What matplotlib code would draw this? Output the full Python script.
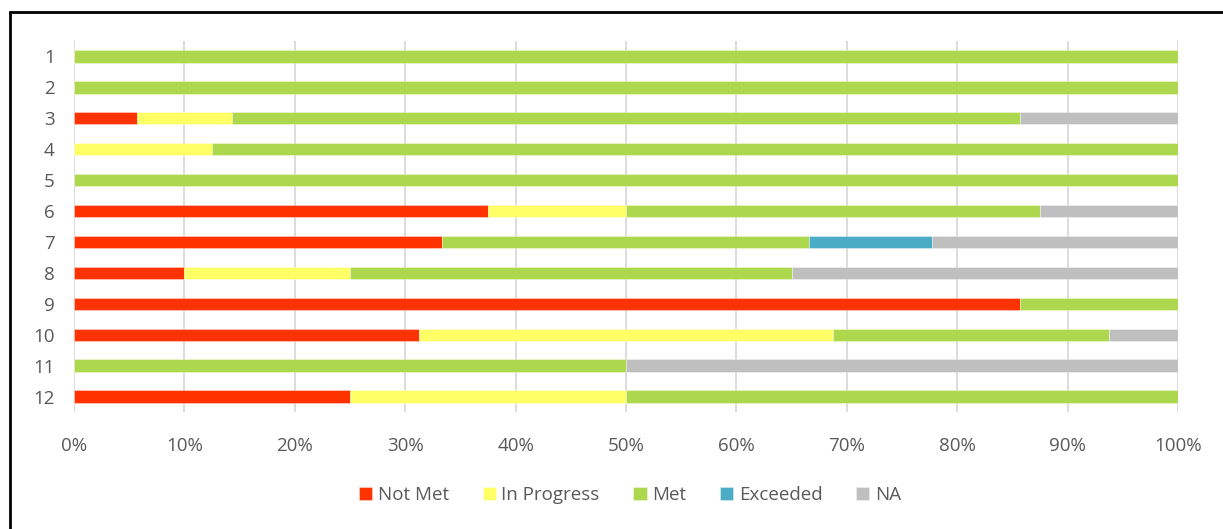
import matplotlib
matplotlib.use("Agg")
import matplotlib.pyplot as plt
from matplotlib.patches import Rectangle
import numpy as np

categories = ["1", "2", "3", "4", "5", "6", "7", "8", "9", "10", "11", "12"]
series_names = ["Not Met", "In Progress", "Met", "Exceeded", "NA"]
not_met     = [0, 0, 5.7, 0, 0, 37.5, 33.3, 10, 85.7, 31.25, 0, 25]
in_progress = [0, 0, 8.6, 12.5, 0, 12.5, 0, 15, 0, 37.5, 0, 25]
met         = [100, 100, 71.4, 87.5, 100, 37.5, 33.3, 40, 14.3, 25, 50, 50]
exceeded    = [0, 0, 0, 0, 0, 0, 11.1, 0, 0, 0, 0, 0]
na          = [0, 0, 14.3, 0, 0, 12.5, 22.3, 35, 0, 6.25, 50, 0]
colors = ["#FF3300", "#FFFF66", "#ADD74C", "#4BACC6", "#BFBFBF"]
xticks = [0, 10, 20, 30, 40, 50, 60, 70, 80, 90, 100]

plt.rcParams['font.family'] = ['Open Sans', 'DejaVu Sans']
fig = plt.figure(figsize=(12.23, 5.29), dpi=100)
ax = fig.add_axes([74/1223, 1-412/529, (1178-74)/1223, (412-41)/529])

y = np.arange(len(categories))
left = np.zeros(len(categories))
data = [not_met, in_progress, met, exceeded, na]
for name, vals, c in zip(series_names, data, colors):
    vals = np.array(vals, dtype=float)
    ax.barh(y, vals, left=left, height=0.4, color=c, label=name, zorder=3,
            edgecolor=(1, 1, 1, 0.4), linewidth=0.6)
    left += vals

ax.set_xlim(0, 100)
ax.set_ylim(len(categories) - 0.5, -0.5)
ax.set_yticks(y)
ax.set_yticklabels(categories)
ax.set_xticks(xticks)
ax.set_xticklabels([f"{t}%" for t in xticks])
ax.tick_params(axis='both', length=0, labelsize=13.5, colors="#595959")
ax.tick_params(axis='x', pad=18)
ax.tick_params(axis='y', pad=14)
ax.xaxis.grid(True, color="#D9D9D9", linewidth=1.3, zorder=0)
for s in ax.spines.values():
    s.set_visible(False)

handles, labels = ax.get_legend_handles_labels()
leg = fig.legend(handles, labels, loc='center', bbox_to_anchor=(630/1223, 1-495/529),
                 ncol=5, frameon=False, fontsize=13.5, handlelength=0.7, handleheight=0.7,
                 handletextpad=0.3, columnspacing=1.8)
for t in leg.get_texts():
    t.set_color("#595959")

fig.patches.append(Rectangle((10/1223, -0.1), 1.2, (1-12/529) + 0.1, transform=fig.transFigure,
                             fill=False, edgecolor="black", linewidth=2, clip_on=False))

fig.savefig("out.png", dpi=100)
